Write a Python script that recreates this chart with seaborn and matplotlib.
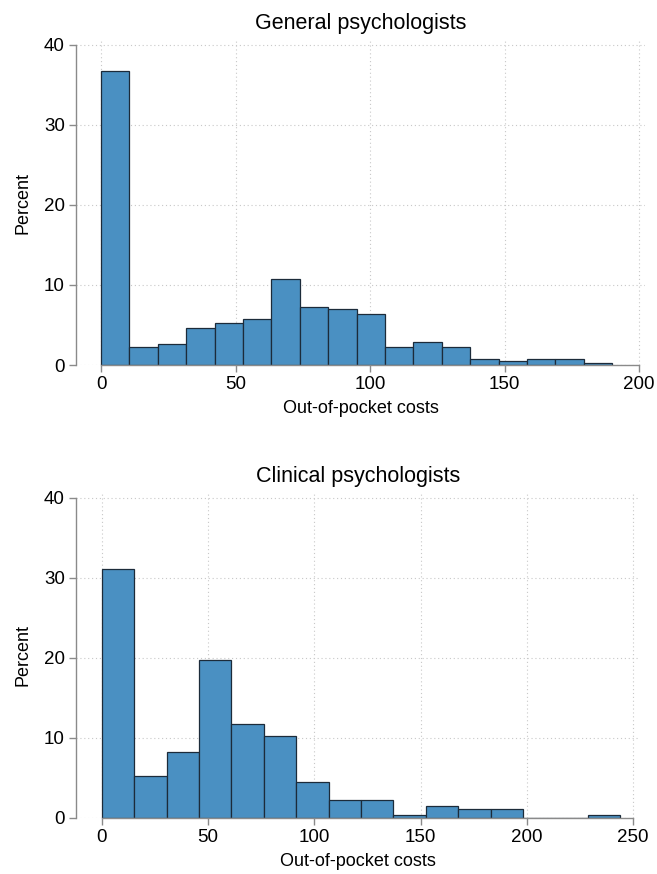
import numpy as np
import pandas as pd
import matplotlib
matplotlib.use("Agg")
import matplotlib.pyplot as plt
import seaborn as sns

# ---- data ----
gen_bin_width = 190 / 18
gen_percent = [36.7, 2.3, 2.6, 4.6, 5.2, 5.8, 10.8, 7.3, 7.0, 6.4,
               2.3, 2.9, 2.3, 0.8, 0.5, 0.8, 0.8, 0.2]
clin_bin_width = 244 / 16
clin_percent = [31.1, 5.3, 8.3, 19.7, 11.7, 10.2, 4.5, 2.2, 2.2, 0.35,
                1.5, 1.1, 1.1, 0.0, 0.0, 0.35]
titles = ["General psychologists", "Clinical psychologists"]
x_ticks_gen = [0, 50, 100, 150, 200]
x_ticks_clin = [0, 50, 100, 150, 200, 250]
y_ticks = [0, 10, 20, 30, 40]
xlabel = "Out-of-pocket costs"
ylabel = "Percent"

sns.set_style("white")
plt.rcParams['font.family'] = ['Liberation Sans', 'DejaVu Sans']
plt.rcParams['text.color'] = 'black'
plt.rcParams['axes.labelcolor'] = 'black'

BAR = "#4a90c2"
EDGE = "#1c2b3a"
AX = "#8a8a8a"

fig = plt.figure(figsize=(6.57, 8.74), dpi=100)

def panel(rect, percents, width, xticks, xlim, title):
    ax = fig.add_axes(rect)
    n = len(percents)
    edges = np.arange(n + 1) * width
    centers = (edges[:-1] + edges[1:]) / 2
    df = pd.DataFrame({"x": centers, "w": percents})
    sns.histplot(data=df, x="x", weights="w", bins=list(edges), stat="count",
                 color=BAR, alpha=1.0, edgecolor=EDGE, linewidth=0.9, ax=ax)
    ax.set_xlim(*xlim)
    ax.set_ylim(0, 40.6)
    ax.set_xticks(xticks)
    ax.set_yticks(y_ticks)
    ax.grid(True, linestyle=(0, (1, 2.5)), color="#c8c8c8", linewidth=0.8)
    ax.set_axisbelow(True)
    for s in ["top", "right"]:
        ax.spines[s].set_visible(False)
    for s in ["left", "bottom"]:
        ax.spines[s].set_color(AX)
        ax.spines[s].set_linewidth(1.0)
    ax.spines["bottom"].set_bounds(xticks[0], xticks[-1])
    ax.spines["left"].set_bounds(0, 40)
    ax.tick_params(axis="both", which="major", bottom=True, left=True,
                   direction="out", length=5, width=1.0,
                   color=AX, labelsize=13.5, labelcolor="black", pad=3)
    ax.set_xlabel(xlabel, fontsize=13, labelpad=5)
    ax.set_ylabel(ylabel, fontsize=13, labelpad=9)
    ax.set_title(title, fontsize=15.5, pad=8, color="black")
    return ax

panel([76/657, 1 - 365/874, 569/657, 325/874], gen_percent, gen_bin_width,
      x_ticks_gen, (-9.3, 202.2), titles[0])
panel([76/657, 1 - 818/874, 564/657, 325/874], clin_percent, clin_bin_width,
      x_ticks_clin, (-12.2, 253.3), titles[1])

fig.savefig("out.png", dpi=100)
